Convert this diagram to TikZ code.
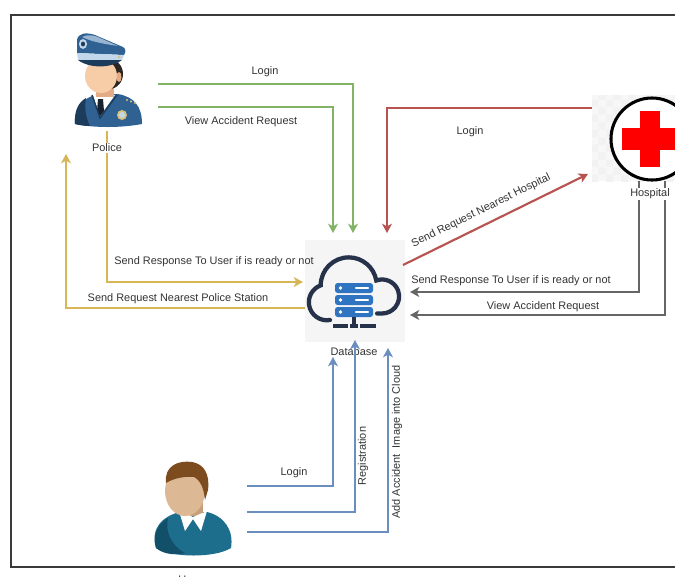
\documentclass[tikz,border=0pt]{standalone}
\usepackage{fontspec}
\setmainfont{Liberation Sans}
\usetikzlibrary{calc,arrows.meta,patterns}

\definecolor{lineGreen}{HTML}{82B366}
\definecolor{lineGold}{HTML}{D6B656}
\definecolor{lineRed}{HTML}{B85450}
\definecolor{lineGray}{HTML}{666666}
\definecolor{lineBlue}{HTML}{6C8EBF}
\definecolor{txt}{HTML}{333333}
\definecolor{frameCol}{HTML}{3A3A3A}
\definecolor{policeBlue}{HTML}{2F6192}
\definecolor{policeDark}{HTML}{1D3C5C}
\definecolor{capBand}{HTML}{C3D7EA}
\definecolor{skin}{HTML}{F7CDA8}
\definecolor{skinShade}{HTML}{E3AC86}
\definecolor{hairDark}{HTML}{2B2622}
\definecolor{tieCol}{HTML}{18222F}
\definecolor{badgeGold}{HTML}{D9C27A}
\definecolor{userTeal}{HTML}{1D6D8C}
\definecolor{userTealDark}{HTML}{124F69}
\definecolor{userHair}{HTML}{7C4C1F}
\definecolor{userSkin}{HTML}{DDB895}
\definecolor{userSkinDark}{HTML}{C99F79}
\definecolor{cloudNavy}{HTML}{26324A}
\definecolor{serverBlue}{HTML}{2F74C0}
\definecolor{crossRed}{HTML}{FF0000}

\tikzset{
  iconbox/.style={rectangle, inner sep=0pt, outer sep=0pt, draw=none},
  lbl/.style={font=\fontsize{8.2}{10}\selectfont, text=txt, inner sep=1pt},
  conn/.style={line width=1.6pt, -{Stealth[length=7pt,width=7.5pt,inset=2pt]}},
}

\begin{document}
\begin{tikzpicture}[x=0.75pt,y=-0.75pt]
\useasboundingbox (0,0) rectangle (675,576);
\clip (0,0) rectangle (675,576);
\fill[white] (0,0) rectangle (675,576);

% outer frame
\draw[frameCol, line width=0.9pt] (11,15) rectangle (690,567);

% ---------- icon anchors ----------
\node[iconbox, minimum width=52.5pt, minimum height=72pt] (police) at (110,82) {};
\node[iconbox, minimum width=75pt, minimum height=76.5pt, fill=black!4] (db) at (355,291) {};
\node[iconbox, minimum width=81pt, minimum height=64.5pt] (hosp) at (646,138) {};
\node[iconbox, minimum width=60pt, minimum height=72pt] (user) at (193,508) {};

% ---------- police officer ----------
\fill[policeBlue] (75,124) .. controls (74,108) and (82,99) .. (95,95) -- (118,94)
  .. controls (134,97) and (142,106) .. (142,124) .. controls (120,128) and (95,128) .. (75,124) -- cycle;
\fill[policeDark] (75,124) .. controls (74,110) and (79,102) .. (86,98)
  .. controls (84,108) and (86,118) .. (90,126) .. controls (84,126) and (79,125) .. (75,124) -- cycle;
\fill[white] (93,95) -- (100,116) -- (115,95) -- cycle;
\fill[tieCol] (98,99) -- (103,99) -- (104,111) -- (100,116) -- (97,111) -- cycle;
\draw[policeDark, line width=1pt] (92,95) -- (100,118) -- (117,95);
\fill[badgeGold] (122,115) circle (5);
\fill[capBand] (122,115) circle (3);
\foreach \i in {0,1,2} \fill[badgeGold] (127+4*\i,100+1.5*\i) circle (1.1);
\fill[skinShade] (96,84) rectangle (114,97);
\fill[hairDark] (109,74) ellipse (14 and 15);
\fill[skin] (101,76) ellipse (16 and 17);
\fill[skinShade] (119,77) ellipse (2.5 and 5);
% cap
\fill[policeBlue] (77,53) -- (77,40) .. controls (78,33) and (86,32) .. (95,35)
  -- (123,47) .. controls (126,49) and (126,52) .. (124,55) -- cycle;
\fill[capBand!70!policeBlue] (82,37) .. controls (88,34) and (94,35) .. (100,38)
  -- (118,46) .. controls (105,44) and (92,42) .. (82,37) -- cycle;
\fill[capBand] (83,44) ellipse (4 and 5);
\fill[policeDark] (83,44) ellipse (2 and 2.5);
\fill[capBand] (77,53) -- (124,55) -- (122,60) -- (78,60) -- cycle;
\fill[badgeGold] (119,57) circle (1.5);
\fill[policeDark] (78,60) -- (122,60) .. controls (112,68) and (90,69) .. (78,60) -- cycle;

% ---------- user ----------
\fill[userTeal] (156,548) .. controls (150,528) and (163,516) .. (180,512) -- (207,512)
  .. controls (224,516) and (234,530) .. (231,548) .. controls (215,558) and (172,558) .. (156,548) -- cycle;
\fill[userTealDark] (156,548) .. controls (152,535) and (158,524) .. (168,518)
  .. controls (165,530) and (170,545) .. (185,553) .. controls (172,556) and (162,553) .. (156,548) -- cycle;
\fill[userSkinDark] (183,500) rectangle (203,516);
\fill[white] (179,511) -- (185,531) -- (193,519) -- (201,531) -- (207,511) -- (193,517) -- cycle;
\fill[userHair] (189,484) ellipse (19 and 22);
\fill[userSkin] (185,491) ellipse (20 and 25);
\fill[userHair] (166,483) .. controls (164,466) and (178,460) .. (192,462)
  .. controls (204,464) and (210,474) .. (208,490) -- (205,500)
  .. controls (204,488) and (200,480) .. (194,477)
  .. controls (186,476) and (174,478) .. (166,483) -- cycle;

% ---------- hospital ----------
\fill[black!3] (hosp.north west) rectangle (hosp.south east);
\fill[pattern=checkerboard, pattern color=black!5] (hosp.north west) rectangle (hosp.south east);
\draw[black, line width=2.3pt, fill=white] (652,139) circle (41);
\fill[crossRed] (640,111) rectangle (660,167);
\fill[crossRed] (622,128) rectangle (678,150);

% ---------- database (cloud with servers) ----------
\draw[cloudNavy, line width=3.2pt, line cap=round]
  (330,320) arc[start angle=80, end angle=250, radius=18]
  arc[start angle=180, end angle=350, radius=28]
  arc[start angle=250, end angle=450, radius=17] -- ++(-5,0);
\foreach \yy in {283,295,307} {
  \fill[serverBlue, rounded corners=2pt] (335,\yy) rectangle (373,\yy+10);
  \fill[white] (340.5,\yy+5) circle (1.8);
  \draw[white, line width=1.6pt, line cap=round] (356,\yy+5) -- (368,\yy+5);
}
\draw[cloudNavy, line width=2.4pt] (354,317) -- (354,326);
\draw[cloudNavy, line width=2.6pt] (333,326) -- (348,326) (350,326) -- (358,326) (360,326) -- (376,326);
\node[lbl] (dbLbl) at (354,352) {Database};

% ---------- police <-> database ----------
\draw[conn, lineGreen] ($(police.east)+(13,2)$) -| ($(db.north)+(-2,-7)$);
\draw[conn, lineGreen] ($(police.east)+(13,25)$) -| ($(db.north)+(-22,-7)$);
\node[lbl] (gLogin) at (265,72) {Login};
\node[lbl] (gView) at (241,122) {View Accident Request};

\draw[conn, lineGold] ($(police.south)+(-3,1)$) |- ($(db.west)+(-2,-9)$);
\draw[conn, lineGold] ($(db.west)+(0,17)$) -| ($(police.south west)+(-9,24)$);
\node[lbl] (yResp) at (214,262) {Send Response To User if is ready or not};
\node[lbl] (yReq) at (178,299) {Send Request Nearest Police Station};
\node[lbl, fill=white] (policeLbl) at (107,148) {Police};

% ---------- hospital <-> database ----------
\draw[conn, lineRed] ($(hosp.west)+(0,-30)$) -| ($(db.north)+(32,-7)$);
\node[lbl] (rLogin) at (470,132) {Login};
\draw[conn, lineRed] ($(db.east)+(-2,-26)$) -- node[lbl, sloped, above=5pt, pos=0.456] (rReq) {Send Request Nearest Hospital} ($(hosp.south west)+(-4,-7)$);

\draw[conn, lineGray] ($(hosp.south)+(-7,0)$) |- ($(db.east)+(5,1)$);
\draw[conn, lineGray] ($(hosp.south)+(19,0)$) |- ($(db.east)+(5,24)$);
\node[lbl] (hResp) at (511,281) {Send Response To User if is ready or not};
\node[lbl] (hView) at (543,307) {View Accident Request};
\node[lbl, fill=white] (hospLbl) at (650,194) {Hospital};

% ---------- user -> database ----------
\draw[conn, lineBlue] ($(user.east)+(14,-22)$) -| ($(db.south)+(-22,15)$);
\draw[conn, lineBlue] ($(user.east)+(14,4)$) -| ($(db.south)+(0,-2)$);
\draw[conn, lineBlue] ($(user.east)+(14,24)$) -| ($(db.south)+(33,6)$);
\node[lbl] (uLogin) at (294,473) {Login};
\node[lbl, rotate=90] (uReg) at (363,456) {Registration};
\node[lbl, rotate=90] (uAdd) at (397,442) {Add Accident\ \ Image into Cloud};
\node[lbl] (userLbl) at (190,580) {User};
\end{tikzpicture}
\end{document}
